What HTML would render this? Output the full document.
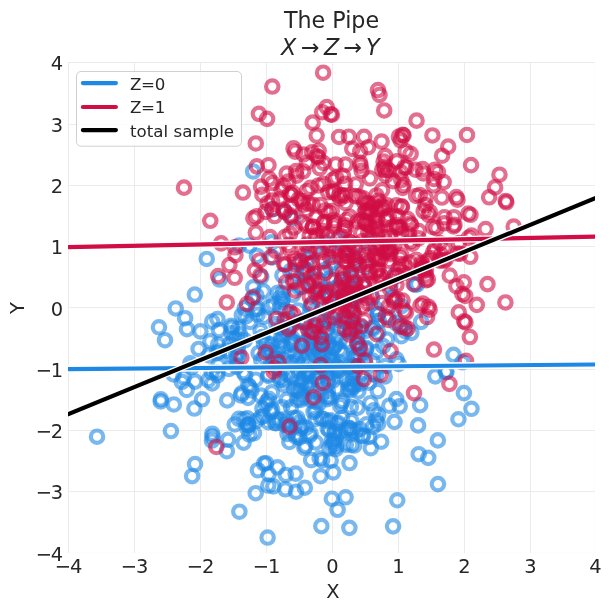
<!DOCTYPE html><html><head><meta charset="utf-8"><style>html,body{margin:0;padding:0;background:#fff}svg{display:block;will-change:transform}text{font-family:"DejaVu Sans","Liberation Sans",sans-serif;fill:#262626}</style></head><body>
<svg width="611" height="611" viewBox="0 0 611 611">
<rect width="611" height="611" fill="#fff"/>
<defs><clipPath id="ax"><rect x="68" y="62.5" width="527" height="490"/></clipPath></defs>
<g stroke="#ebebeb" stroke-width="1" fill="none">
<line x1="68.5" y1="62" x2="68.5" y2="553"/>
<line x1="134.5" y1="62" x2="134.5" y2="553"/>
<line x1="200.5" y1="62" x2="200.5" y2="553"/>
<line x1="266.5" y1="62" x2="266.5" y2="553"/>
<line x1="332.5" y1="62" x2="332.5" y2="553"/>
<line x1="398.5" y1="62" x2="398.5" y2="553"/>
<line x1="464.5" y1="62" x2="464.5" y2="553"/>
<line x1="530.5" y1="62" x2="530.5" y2="553"/>
<line x1="594.5" y1="62" x2="594.5" y2="553" stroke-opacity="0.15"/>
<line x1="68" y1="62.5" x2="595" y2="62.5"/>
<line x1="68" y1="124.5" x2="595" y2="124.5"/>
<line x1="68" y1="185.5" x2="595" y2="185.5"/>
<line x1="68" y1="246.5" x2="595" y2="246.5"/>
<line x1="68" y1="307.5" x2="595" y2="307.5"/>
<line x1="68" y1="369.5" x2="595" y2="369.5"/>
<line x1="68" y1="430.5" x2="595" y2="430.5"/>
<line x1="68" y1="491.5" x2="595" y2="491.5"/>
<line x1="68" y1="552.5" x2="595" y2="552.5" stroke-opacity="0.12"/>
</g>
<g clip-path="url(#ax)" fill="none" stroke-width="4.17">
<g stroke="#1E88E5" stroke-opacity="0.6">
<circle cx="253.27" cy="287.41" r="6.21"/>
<circle cx="311.11" cy="375.51" r="6.21"/>
<circle cx="284.25" cy="346.33" r="6.21"/>
<circle cx="394.48" cy="421.87" r="6.21"/>
<circle cx="198.60" cy="348.95" r="6.21"/>
<circle cx="331.84" cy="498.72" r="6.21"/>
<circle cx="358.40" cy="295.26" r="6.21"/>
<circle cx="229.84" cy="343.78" r="6.21"/>
<circle cx="318.36" cy="298.02" r="6.21"/>
<circle cx="288.50" cy="327.45" r="6.21"/>
<circle cx="300.80" cy="384.85" r="6.21"/>
<circle cx="376.19" cy="352.14" r="6.21"/>
<circle cx="212.05" cy="383.48" r="6.21"/>
<circle cx="319.64" cy="458.31" r="6.21"/>
<circle cx="401.43" cy="306.15" r="6.21"/>
<circle cx="305.50" cy="322.85" r="6.21"/>
<circle cx="323.66" cy="341.64" r="6.21"/>
<circle cx="336.72" cy="423.56" r="6.21"/>
<circle cx="334.08" cy="441.42" r="6.21"/>
<circle cx="195.06" cy="464.01" r="6.21"/>
<circle cx="272.62" cy="257.41" r="6.21"/>
<circle cx="322.69" cy="367.32" r="6.21"/>
<circle cx="236.49" cy="366.74" r="6.21"/>
<circle cx="239.38" cy="511.71" r="6.21"/>
<circle cx="325.05" cy="351.77" r="6.21"/>
<circle cx="295.60" cy="473.62" r="6.21"/>
<circle cx="355.01" cy="327.61" r="6.21"/>
<circle cx="329.36" cy="359.97" r="6.21"/>
<circle cx="327.07" cy="330.27" r="6.21"/>
<circle cx="351.98" cy="371.86" r="6.21"/>
<circle cx="317.97" cy="378.86" r="6.21"/>
<circle cx="173.63" cy="374.39" r="6.21"/>
<circle cx="378.11" cy="314.28" r="6.21"/>
<circle cx="279.98" cy="307.04" r="6.21"/>
<circle cx="378.07" cy="423.72" r="6.21"/>
<circle cx="463.92" cy="393.12" r="6.21"/>
<circle cx="346.65" cy="321.74" r="6.21"/>
<circle cx="373.32" cy="328.42" r="6.21"/>
<circle cx="362.28" cy="436.06" r="6.21"/>
<circle cx="97.04" cy="436.70" r="6.21"/>
<circle cx="418.69" cy="454.19" r="6.21"/>
<circle cx="341.75" cy="296.56" r="6.21"/>
<circle cx="342.53" cy="401.14" r="6.21"/>
<circle cx="349.53" cy="463.06" r="6.21"/>
<circle cx="336.96" cy="388.34" r="6.21"/>
<circle cx="305.36" cy="445.75" r="6.21"/>
<circle cx="264.02" cy="343.94" r="6.21"/>
<circle cx="293.20" cy="342.36" r="6.21"/>
<circle cx="309.00" cy="344.64" r="6.21"/>
<circle cx="366.49" cy="424.40" r="6.21"/>
<circle cx="261.31" cy="276.89" r="6.21"/>
<circle cx="297.99" cy="390.95" r="6.21"/>
<circle cx="350.88" cy="406.84" r="6.21"/>
<circle cx="369.01" cy="437.00" r="6.21"/>
<circle cx="280.26" cy="342.00" r="6.21"/>
<circle cx="300.88" cy="394.39" r="6.21"/>
<circle cx="247.34" cy="418.29" r="6.21"/>
<circle cx="219.05" cy="351.51" r="6.21"/>
<circle cx="302.02" cy="426.31" r="6.21"/>
<circle cx="381.03" cy="247.42" r="6.21"/>
<circle cx="319.70" cy="352.25" r="6.21"/>
<circle cx="211.95" cy="440.51" r="6.21"/>
<circle cx="357.70" cy="354.24" r="6.21"/>
<circle cx="291.02" cy="407.24" r="6.21"/>
<circle cx="286.73" cy="331.46" r="6.21"/>
<circle cx="219.56" cy="279.56" r="6.21"/>
<circle cx="300.14" cy="262.66" r="6.21"/>
<circle cx="341.66" cy="244.06" r="6.21"/>
<circle cx="385.44" cy="366.03" r="6.21"/>
<circle cx="373.82" cy="410.39" r="6.21"/>
<circle cx="268.35" cy="422.21" r="6.21"/>
<circle cx="194.39" cy="408.54" r="6.21"/>
<circle cx="217.43" cy="375.30" r="6.21"/>
<circle cx="411.40" cy="332.86" r="6.21"/>
<circle cx="275.70" cy="358.65" r="6.21"/>
<circle cx="297.17" cy="417.99" r="6.21"/>
<circle cx="377.85" cy="391.09" r="6.21"/>
<circle cx="396.51" cy="359.25" r="6.21"/>
<circle cx="327.97" cy="421.36" r="6.21"/>
<circle cx="421.11" cy="321.89" r="6.21"/>
<circle cx="278.70" cy="327.58" r="6.21"/>
<circle cx="191.86" cy="367.05" r="6.21"/>
<circle cx="309.74" cy="382.70" r="6.21"/>
<circle cx="273.31" cy="486.35" r="6.21"/>
<circle cx="282.72" cy="292.68" r="6.21"/>
<circle cx="310.61" cy="305.69" r="6.21"/>
<circle cx="271.37" cy="344.49" r="6.21"/>
<circle cx="275.09" cy="423.03" r="6.21"/>
<circle cx="394.42" cy="275.40" r="6.21"/>
<circle cx="326.92" cy="375.61" r="6.21"/>
<circle cx="250.11" cy="321.89" r="6.21"/>
<circle cx="340.90" cy="321.03" r="6.21"/>
<circle cx="339.75" cy="362.22" r="6.21"/>
<circle cx="238.89" cy="418.87" r="6.21"/>
<circle cx="190.26" cy="363.40" r="6.21"/>
<circle cx="236.25" cy="353.93" r="6.21"/>
<circle cx="292.73" cy="218.43" r="6.21"/>
<circle cx="304.40" cy="447.93" r="6.21"/>
<circle cx="237.81" cy="347.13" r="6.21"/>
<circle cx="292.66" cy="338.67" r="6.21"/>
<circle cx="321.09" cy="395.39" r="6.21"/>
<circle cx="350.69" cy="390.05" r="6.21"/>
<circle cx="262.46" cy="408.38" r="6.21"/>
<circle cx="310.66" cy="433.68" r="6.21"/>
<circle cx="290.87" cy="344.18" r="6.21"/>
<circle cx="342.04" cy="417.97" r="6.21"/>
<circle cx="294.07" cy="388.63" r="6.21"/>
<circle cx="401.35" cy="325.84" r="6.21"/>
<circle cx="297.15" cy="399.85" r="6.21"/>
<circle cx="336.43" cy="370.25" r="6.21"/>
<circle cx="295.72" cy="434.55" r="6.21"/>
<circle cx="398.56" cy="363.93" r="6.21"/>
<circle cx="287.22" cy="374.05" r="6.21"/>
<circle cx="458.43" cy="419.25" r="6.21"/>
<circle cx="358.78" cy="356.47" r="6.21"/>
<circle cx="346.61" cy="341.28" r="6.21"/>
<circle cx="194.82" cy="294.56" r="6.21"/>
<circle cx="325.96" cy="329.11" r="6.21"/>
<circle cx="339.68" cy="349.68" r="6.21"/>
<circle cx="351.39" cy="421.07" r="6.21"/>
<circle cx="321.36" cy="526.13" r="6.21"/>
<circle cx="282.94" cy="359.88" r="6.21"/>
<circle cx="249.54" cy="386.89" r="6.21"/>
<circle cx="348.13" cy="388.91" r="6.21"/>
<circle cx="313.54" cy="411.86" r="6.21"/>
<circle cx="388.53" cy="248.88" r="6.21"/>
<circle cx="240.03" cy="334.29" r="6.21"/>
<circle cx="357.47" cy="293.89" r="6.21"/>
<circle cx="273.68" cy="358.55" r="6.21"/>
<circle cx="351.13" cy="444.91" r="6.21"/>
<circle cx="218.95" cy="330.00" r="6.21"/>
<circle cx="239.04" cy="245.43" r="6.21"/>
<circle cx="248.14" cy="424.39" r="6.21"/>
<circle cx="298.51" cy="371.36" r="6.21"/>
<circle cx="279.78" cy="346.21" r="6.21"/>
<circle cx="299.71" cy="322.17" r="6.21"/>
<circle cx="333.25" cy="472.35" r="6.21"/>
<circle cx="333.25" cy="362.26" r="6.21"/>
<circle cx="299.40" cy="437.73" r="6.21"/>
<circle cx="307.04" cy="385.24" r="6.21"/>
<circle cx="173.82" cy="404.46" r="6.21"/>
<circle cx="335.85" cy="344.58" r="6.21"/>
<circle cx="248.36" cy="425.05" r="6.21"/>
<circle cx="324.80" cy="242.96" r="6.21"/>
<circle cx="357.13" cy="336.32" r="6.21"/>
<circle cx="286.67" cy="399.83" r="6.21"/>
<circle cx="401.32" cy="336.25" r="6.21"/>
<circle cx="420.15" cy="405.19" r="6.21"/>
<circle cx="328.37" cy="342.60" r="6.21"/>
<circle cx="307.73" cy="372.72" r="6.21"/>
<circle cx="310.67" cy="306.74" r="6.21"/>
<circle cx="366.41" cy="348.03" r="6.21"/>
<circle cx="216.98" cy="353.06" r="6.21"/>
<circle cx="325.48" cy="363.56" r="6.21"/>
<circle cx="370.73" cy="448.21" r="6.21"/>
<circle cx="295.97" cy="272.91" r="6.21"/>
<circle cx="330.03" cy="266.57" r="6.21"/>
<circle cx="392.57" cy="297.44" r="6.21"/>
<circle cx="327.67" cy="396.11" r="6.21"/>
<circle cx="264.35" cy="356.99" r="6.21"/>
<circle cx="397.29" cy="500.25" r="6.21"/>
<circle cx="340.48" cy="431.53" r="6.21"/>
<circle cx="309.18" cy="387.82" r="6.21"/>
<circle cx="303.85" cy="271.90" r="6.21"/>
<circle cx="349.78" cy="327.64" r="6.21"/>
<circle cx="329.26" cy="297.02" r="6.21"/>
<circle cx="320.45" cy="360.27" r="6.21"/>
<circle cx="349.28" cy="304.73" r="6.21"/>
<circle cx="330.22" cy="420.32" r="6.21"/>
<circle cx="340.35" cy="406.07" r="6.21"/>
<circle cx="368.95" cy="382.70" r="6.21"/>
<circle cx="320.22" cy="345.62" r="6.21"/>
<circle cx="261.15" cy="360.10" r="6.21"/>
<circle cx="276.04" cy="423.24" r="6.21"/>
<circle cx="359.72" cy="331.23" r="6.21"/>
<circle cx="301.52" cy="287.16" r="6.21"/>
<circle cx="243.59" cy="442.63" r="6.21"/>
<circle cx="328.97" cy="397.38" r="6.21"/>
<circle cx="354.14" cy="445.56" r="6.21"/>
<circle cx="255.67" cy="379.70" r="6.21"/>
<circle cx="248.20" cy="385.21" r="6.21"/>
<circle cx="260.58" cy="331.03" r="6.21"/>
<circle cx="338.42" cy="367.64" r="6.21"/>
<circle cx="237.10" cy="358.69" r="6.21"/>
<circle cx="272.64" cy="209.26" r="6.21"/>
<circle cx="218.15" cy="344.43" r="6.21"/>
<circle cx="245.26" cy="375.08" r="6.21"/>
<circle cx="286.80" cy="421.90" r="6.21"/>
<circle cx="435.27" cy="376.37" r="6.21"/>
<circle cx="309.75" cy="347.89" r="6.21"/>
<circle cx="298.99" cy="390.94" r="6.21"/>
<circle cx="399.70" cy="406.27" r="6.21"/>
<circle cx="217.13" cy="372.45" r="6.21"/>
<circle cx="281.93" cy="301.83" r="6.21"/>
<circle cx="357.64" cy="343.08" r="6.21"/>
<circle cx="353.60" cy="355.36" r="6.21"/>
<circle cx="257.91" cy="470.22" r="6.21"/>
<circle cx="334.88" cy="431.51" r="6.21"/>
<circle cx="264.04" cy="316.65" r="6.21"/>
<circle cx="316.01" cy="289.43" r="6.21"/>
<circle cx="316.78" cy="347.34" r="6.21"/>
<circle cx="270.87" cy="363.40" r="6.21"/>
<circle cx="248.07" cy="397.84" r="6.21"/>
<circle cx="318.83" cy="403.59" r="6.21"/>
<circle cx="301.18" cy="365.16" r="6.21"/>
<circle cx="360.60" cy="383.67" r="6.21"/>
<circle cx="268.38" cy="374.49" r="6.21"/>
<circle cx="315.86" cy="327.00" r="6.21"/>
<circle cx="212.15" cy="321.65" r="6.21"/>
<circle cx="271.77" cy="242.38" r="6.21"/>
<circle cx="282.41" cy="275.36" r="6.21"/>
<circle cx="347.33" cy="316.95" r="6.21"/>
<circle cx="311.13" cy="460.15" r="6.21"/>
<circle cx="327.78" cy="391.24" r="6.21"/>
<circle cx="300.75" cy="428.41" r="6.21"/>
<circle cx="264.04" cy="463.66" r="6.21"/>
<circle cx="311.51" cy="349.55" r="6.21"/>
<circle cx="249.41" cy="434.54" r="6.21"/>
<circle cx="228.96" cy="368.84" r="6.21"/>
<circle cx="320.49" cy="476.25" r="6.21"/>
<circle cx="296.09" cy="491.71" r="6.21"/>
<circle cx="317.40" cy="372.29" r="6.21"/>
<circle cx="353.53" cy="255.08" r="6.21"/>
<circle cx="280.22" cy="379.86" r="6.21"/>
<circle cx="349.23" cy="331.24" r="6.21"/>
<circle cx="251.39" cy="390.49" r="6.21"/>
<circle cx="284.03" cy="384.78" r="6.21"/>
<circle cx="217.46" cy="319.01" r="6.21"/>
<circle cx="338.23" cy="423.05" r="6.21"/>
<circle cx="307.79" cy="371.06" r="6.21"/>
<circle cx="294.01" cy="345.28" r="6.21"/>
<circle cx="252.15" cy="298.97" r="6.21"/>
<circle cx="243.48" cy="372.15" r="6.21"/>
<circle cx="233.62" cy="338.69" r="6.21"/>
<circle cx="255.91" cy="309.16" r="6.21"/>
<circle cx="358.92" cy="349.30" r="6.21"/>
<circle cx="348.93" cy="428.29" r="6.21"/>
<circle cx="285.73" cy="474.95" r="6.21"/>
<circle cx="312.84" cy="251.84" r="6.21"/>
<circle cx="313.37" cy="354.90" r="6.21"/>
<circle cx="238.83" cy="353.75" r="6.21"/>
<circle cx="361.33" cy="327.16" r="6.21"/>
<circle cx="365.64" cy="267.03" r="6.21"/>
<circle cx="255.70" cy="493.17" r="6.21"/>
<circle cx="240.82" cy="395.41" r="6.21"/>
<circle cx="299.05" cy="422.64" r="6.21"/>
<circle cx="304.49" cy="360.86" r="6.21"/>
<circle cx="218.48" cy="365.36" r="6.21"/>
<circle cx="329.75" cy="278.59" r="6.21"/>
<circle cx="281.26" cy="336.57" r="6.21"/>
<circle cx="284.75" cy="380.36" r="6.21"/>
<circle cx="185.11" cy="318.18" r="6.21"/>
<circle cx="231.46" cy="333.19" r="6.21"/>
<circle cx="330.76" cy="317.75" r="6.21"/>
<circle cx="315.45" cy="401.72" r="6.21"/>
<circle cx="320.81" cy="352.74" r="6.21"/>
<circle cx="339.54" cy="340.74" r="6.21"/>
<circle cx="195.06" cy="381.59" r="6.21"/>
<circle cx="285.31" cy="489.31" r="6.21"/>
<circle cx="308.42" cy="372.29" r="6.21"/>
<circle cx="300.01" cy="345.44" r="6.21"/>
<circle cx="355.54" cy="384.18" r="6.21"/>
<circle cx="332.38" cy="373.00" r="6.21"/>
<circle cx="346.49" cy="300.15" r="6.21"/>
<circle cx="256.98" cy="255.95" r="6.21"/>
<circle cx="269.04" cy="350.08" r="6.21"/>
<circle cx="323.33" cy="418.92" r="6.21"/>
<circle cx="290.59" cy="425.24" r="6.21"/>
<circle cx="244.82" cy="340.33" r="6.21"/>
<circle cx="342.56" cy="279.15" r="6.21"/>
<circle cx="253.10" cy="171.49" r="6.21"/>
<circle cx="299.50" cy="331.34" r="6.21"/>
<circle cx="386.85" cy="339.55" r="6.21"/>
<circle cx="365.56" cy="330.89" r="6.21"/>
<circle cx="328.40" cy="383.13" r="6.21"/>
<circle cx="337.62" cy="509.79" r="6.21"/>
<circle cx="352.95" cy="311.49" r="6.21"/>
<circle cx="331.69" cy="441.06" r="6.21"/>
<circle cx="236.94" cy="338.18" r="6.21"/>
<circle cx="241.79" cy="393.21" r="6.21"/>
<circle cx="336.45" cy="337.21" r="6.21"/>
<circle cx="372.08" cy="374.07" r="6.21"/>
<circle cx="230.89" cy="354.81" r="6.21"/>
<circle cx="303.75" cy="377.52" r="6.21"/>
<circle cx="405.38" cy="331.10" r="6.21"/>
<circle cx="383.01" cy="346.10" r="6.21"/>
<circle cx="293.08" cy="294.82" r="6.21"/>
<circle cx="347.52" cy="279.53" r="6.21"/>
<circle cx="265.98" cy="463.24" r="6.21"/>
<circle cx="344.29" cy="321.09" r="6.21"/>
<circle cx="268.96" cy="307.14" r="6.21"/>
<circle cx="379.04" cy="321.34" r="6.21"/>
<circle cx="320.73" cy="289.11" r="6.21"/>
<circle cx="330.28" cy="323.33" r="6.21"/>
<circle cx="262.17" cy="337.03" r="6.21"/>
<circle cx="350.76" cy="331.97" r="6.21"/>
<circle cx="311.85" cy="338.52" r="6.21"/>
<circle cx="358.99" cy="344.63" r="6.21"/>
<circle cx="366.06" cy="349.20" r="6.21"/>
<circle cx="202.02" cy="399.32" r="6.21"/>
<circle cx="308.36" cy="364.00" r="6.21"/>
<circle cx="258.15" cy="308.95" r="6.21"/>
<circle cx="279.79" cy="420.28" r="6.21"/>
<circle cx="245.80" cy="316.39" r="6.21"/>
<circle cx="354.55" cy="365.45" r="6.21"/>
<circle cx="389.27" cy="405.72" r="6.21"/>
<circle cx="227.97" cy="439.82" r="6.21"/>
<circle cx="321.17" cy="418.49" r="6.21"/>
<circle cx="289.34" cy="442.00" r="6.21"/>
<circle cx="357.63" cy="407.61" r="6.21"/>
<circle cx="359.74" cy="347.87" r="6.21"/>
<circle cx="305.77" cy="373.42" r="6.21"/>
<circle cx="289.49" cy="429.89" r="6.21"/>
<circle cx="276.38" cy="419.54" r="6.21"/>
<circle cx="388.66" cy="317.23" r="6.21"/>
<circle cx="318.21" cy="352.21" r="6.21"/>
<circle cx="324.65" cy="269.97" r="6.21"/>
<circle cx="315.76" cy="333.95" r="6.21"/>
<circle cx="376.28" cy="420.22" r="6.21"/>
<circle cx="186.79" cy="389.98" r="6.21"/>
<circle cx="160.75" cy="401.48" r="6.21"/>
<circle cx="363.02" cy="435.45" r="6.21"/>
<circle cx="226.68" cy="350.88" r="6.21"/>
<circle cx="258.60" cy="353.20" r="6.21"/>
<circle cx="265.95" cy="404.32" r="6.21"/>
<circle cx="181.84" cy="381.80" r="6.21"/>
<circle cx="256.02" cy="421.25" r="6.21"/>
<circle cx="227.25" cy="400.39" r="6.21"/>
<circle cx="300.59" cy="380.41" r="6.21"/>
<circle cx="319.26" cy="280.16" r="6.21"/>
<circle cx="345.60" cy="497.28" r="6.21"/>
<circle cx="437.83" cy="440.40" r="6.21"/>
<circle cx="352.09" cy="385.95" r="6.21"/>
<circle cx="349.36" cy="366.90" r="6.21"/>
<circle cx="453.58" cy="354.81" r="6.21"/>
<circle cx="354.97" cy="260.10" r="6.21"/>
<circle cx="353.86" cy="300.34" r="6.21"/>
<circle cx="160.84" cy="399.29" r="6.21"/>
<circle cx="284.63" cy="424.68" r="6.21"/>
<circle cx="384.67" cy="376.53" r="6.21"/>
<circle cx="260.91" cy="417.14" r="6.21"/>
<circle cx="313.37" cy="391.26" r="6.21"/>
<circle cx="263.43" cy="291.34" r="6.21"/>
<circle cx="206.74" cy="258.93" r="6.21"/>
<circle cx="417.24" cy="284.28" r="6.21"/>
<circle cx="368.13" cy="243.19" r="6.21"/>
<circle cx="348.97" cy="384.03" r="6.21"/>
<circle cx="346.13" cy="430.18" r="6.21"/>
<circle cx="393.10" cy="526.33" r="6.21"/>
<circle cx="446.48" cy="371.57" r="6.21"/>
<circle cx="329.14" cy="430.38" r="6.21"/>
<circle cx="209.05" cy="355.34" r="6.21"/>
<circle cx="322.73" cy="367.93" r="6.21"/>
<circle cx="338.53" cy="286.18" r="6.21"/>
<circle cx="339.30" cy="328.19" r="6.21"/>
<circle cx="378.08" cy="414.89" r="6.21"/>
<circle cx="428.26" cy="457.83" r="6.21"/>
<circle cx="354.99" cy="431.40" r="6.21"/>
<circle cx="355.62" cy="356.56" r="6.21"/>
<circle cx="212.30" cy="433.74" r="6.21"/>
<circle cx="318.67" cy="318.66" r="6.21"/>
<circle cx="351.17" cy="275.49" r="6.21"/>
<circle cx="210.38" cy="341.28" r="6.21"/>
<circle cx="298.04" cy="310.43" r="6.21"/>
<circle cx="332.89" cy="380.52" r="6.21"/>
<circle cx="333.20" cy="348.07" r="6.21"/>
<circle cx="249.37" cy="245.62" r="6.21"/>
<circle cx="372.21" cy="360.43" r="6.21"/>
<circle cx="247.35" cy="428.49" r="6.21"/>
<circle cx="353.08" cy="292.21" r="6.21"/>
<circle cx="375.86" cy="308.87" r="6.21"/>
<circle cx="341.52" cy="402.79" r="6.21"/>
<circle cx="353.24" cy="379.00" r="6.21"/>
<circle cx="308.46" cy="257.85" r="6.21"/>
<circle cx="285.36" cy="310.26" r="6.21"/>
<circle cx="338.42" cy="239.09" r="6.21"/>
<circle cx="313.40" cy="342.31" r="6.21"/>
<circle cx="354.99" cy="370.36" r="6.21"/>
<circle cx="304.81" cy="487.69" r="6.21"/>
<circle cx="212.48" cy="436.54" r="6.21"/>
<circle cx="272.22" cy="409.65" r="6.21"/>
<circle cx="267.11" cy="401.22" r="6.21"/>
<circle cx="231.95" cy="327.54" r="6.21"/>
<circle cx="326.74" cy="321.55" r="6.21"/>
<circle cx="283.80" cy="333.45" r="6.21"/>
<circle cx="315.51" cy="418.96" r="6.21"/>
<circle cx="307.38" cy="270.78" r="6.21"/>
<circle cx="158.98" cy="327.29" r="6.21"/>
<circle cx="321.33" cy="337.85" r="6.21"/>
<circle cx="336.21" cy="445.83" r="6.21"/>
<circle cx="352.28" cy="296.41" r="6.21"/>
<circle cx="279.78" cy="369.17" r="6.21"/>
<circle cx="327.36" cy="346.24" r="6.21"/>
<circle cx="238.29" cy="328.80" r="6.21"/>
<circle cx="298.65" cy="287.48" r="6.21"/>
<circle cx="315.54" cy="410.58" r="6.21"/>
<circle cx="248.11" cy="425.13" r="6.21"/>
<circle cx="314.43" cy="311.24" r="6.21"/>
<circle cx="280.22" cy="297.57" r="6.21"/>
<circle cx="243.50" cy="419.32" r="6.21"/>
<circle cx="333.65" cy="347.68" r="6.21"/>
<circle cx="332.85" cy="288.89" r="6.21"/>
<circle cx="164.98" cy="340.23" r="6.21"/>
<circle cx="359.61" cy="429.16" r="6.21"/>
<circle cx="268.77" cy="474.09" r="6.21"/>
<circle cx="260.75" cy="395.65" r="6.21"/>
<circle cx="351.26" cy="277.24" r="6.21"/>
<circle cx="253.96" cy="433.18" r="6.21"/>
<circle cx="278.24" cy="352.01" r="6.21"/>
<circle cx="183.46" cy="377.24" r="6.21"/>
<circle cx="257.55" cy="314.73" r="6.21"/>
<circle cx="311.43" cy="400.29" r="6.21"/>
<circle cx="268.36" cy="375.97" r="6.21"/>
<circle cx="375.87" cy="375.42" r="6.21"/>
<circle cx="335.87" cy="438.74" r="6.21"/>
<circle cx="317.23" cy="376.64" r="6.21"/>
<circle cx="276.02" cy="358.86" r="6.21"/>
<circle cx="322.12" cy="460.32" r="6.21"/>
<circle cx="353.51" cy="321.45" r="6.21"/>
<circle cx="327.67" cy="428.40" r="6.21"/>
<circle cx="282.11" cy="407.22" r="6.21"/>
<circle cx="309.30" cy="333.15" r="6.21"/>
<circle cx="295.42" cy="353.93" r="6.21"/>
<circle cx="291.92" cy="377.38" r="6.21"/>
<circle cx="471.47" cy="408.76" r="6.21"/>
<circle cx="333.04" cy="262.43" r="6.21"/>
<circle cx="268.86" cy="398.78" r="6.21"/>
<circle cx="301.14" cy="399.69" r="6.21"/>
<circle cx="231.36" cy="325.72" r="6.21"/>
<circle cx="276.34" cy="324.14" r="6.21"/>
<circle cx="332.40" cy="444.94" r="6.21"/>
<circle cx="295.89" cy="436.60" r="6.21"/>
<circle cx="267.61" cy="537.53" r="6.21"/>
<circle cx="396.32" cy="399.05" r="6.21"/>
<circle cx="372.30" cy="327.71" r="6.21"/>
<circle cx="279.84" cy="377.21" r="6.21"/>
<circle cx="333.07" cy="365.18" r="6.21"/>
<circle cx="328.05" cy="378.97" r="6.21"/>
<circle cx="462.31" cy="362.27" r="6.21"/>
<circle cx="336.83" cy="366.03" r="6.21"/>
<circle cx="358.34" cy="391.35" r="6.21"/>
<circle cx="296.98" cy="361.11" r="6.21"/>
<circle cx="329.36" cy="447.89" r="6.21"/>
<circle cx="290.28" cy="271.13" r="6.21"/>
<circle cx="349.38" cy="527.86" r="6.21"/>
<circle cx="370.34" cy="403.20" r="6.21"/>
<circle cx="334.58" cy="433.22" r="6.21"/>
<circle cx="175.71" cy="308.42" r="6.21"/>
<circle cx="170.92" cy="431.01" r="6.21"/>
<circle cx="314.40" cy="347.15" r="6.21"/>
<circle cx="277.53" cy="467.30" r="6.21"/>
<circle cx="328.92" cy="245.54" r="6.21"/>
<circle cx="305.93" cy="427.78" r="6.21"/>
<circle cx="346.88" cy="379.41" r="6.21"/>
<circle cx="353.34" cy="387.08" r="6.21"/>
<circle cx="271.92" cy="392.39" r="6.21"/>
<circle cx="328.95" cy="346.87" r="6.21"/>
<circle cx="200.37" cy="331.39" r="6.21"/>
<circle cx="292.90" cy="362.53" r="6.21"/>
<circle cx="266.84" cy="343.14" r="6.21"/>
<circle cx="263.47" cy="416.18" r="6.21"/>
<circle cx="288.32" cy="318.97" r="6.21"/>
<circle cx="282.87" cy="299.10" r="6.21"/>
<circle cx="378.35" cy="332.72" r="6.21"/>
<circle cx="284.83" cy="211.71" r="6.21"/>
<circle cx="336.01" cy="448.86" r="6.21"/>
<circle cx="303.95" cy="320.86" r="6.21"/>
<circle cx="418.10" cy="425.38" r="6.21"/>
<circle cx="211.66" cy="372.33" r="6.21"/>
<circle cx="345.88" cy="444.66" r="6.21"/>
<circle cx="287.53" cy="433.87" r="6.21"/>
<circle cx="362.62" cy="284.44" r="6.21"/>
<circle cx="365.43" cy="363.88" r="6.21"/>
<circle cx="256.50" cy="295.68" r="6.21"/>
<circle cx="324.13" cy="363.94" r="6.21"/>
<circle cx="415.06" cy="284.81" r="6.21"/>
<circle cx="270.51" cy="411.67" r="6.21"/>
<circle cx="192.12" cy="476.17" r="6.21"/>
<circle cx="187.03" cy="329.20" r="6.21"/>
<circle cx="299.46" cy="331.80" r="6.21"/>
<circle cx="297.88" cy="358.96" r="6.21"/>
<circle cx="372.98" cy="426.84" r="6.21"/>
<circle cx="327.37" cy="399.13" r="6.21"/>
<circle cx="338.94" cy="370.70" r="6.21"/>
<circle cx="281.80" cy="327.08" r="6.21"/>
<circle cx="226.83" cy="451.23" r="6.21"/>
<circle cx="350.95" cy="429.79" r="6.21"/>
<circle cx="315.68" cy="442.45" r="6.21"/>
<circle cx="309.38" cy="435.54" r="6.21"/>
<circle cx="273.76" cy="304.29" r="6.21"/>
<circle cx="437.97" cy="484.15" r="6.21"/>
<circle cx="241.81" cy="315.23" r="6.21"/>
<circle cx="303.96" cy="397.20" r="6.21"/>
<circle cx="234.73" cy="424.47" r="6.21"/>
<circle cx="330.66" cy="460.54" r="6.21"/>
<circle cx="306.16" cy="272.03" r="6.21"/>
<circle cx="390.28" cy="285.28" r="6.21"/>
<circle cx="445.73" cy="372.13" r="6.21"/>
<circle cx="289.67" cy="362.43" r="6.21"/>
<circle cx="377.85" cy="313.68" r="6.21"/>
<circle cx="244.78" cy="308.36" r="6.21"/>
<circle cx="277.79" cy="292.69" r="6.21"/>
<circle cx="342.41" cy="353.65" r="6.21"/>
<circle cx="293.90" cy="417.87" r="6.21"/>
<circle cx="372.31" cy="298.19" r="6.21"/>
<circle cx="395.70" cy="323.00" r="6.21"/>
<circle cx="268.26" cy="485.54" r="6.21"/>
<circle cx="381.19" cy="441.69" r="6.21"/>
<circle cx="208.42" cy="380.10" r="6.21"/>
<circle cx="349.62" cy="428.05" r="6.21"/>
<circle cx="353.27" cy="366.10" r="6.21"/>
<circle cx="278.89" cy="362.26" r="6.21"/>
</g>
<g stroke="#D00E45" stroke-opacity="0.6">
<circle cx="362.74" cy="241.10" r="6.21"/>
<circle cx="426.04" cy="275.36" r="6.21"/>
<circle cx="390.12" cy="289.27" r="6.21"/>
<circle cx="388.30" cy="319.99" r="6.21"/>
<circle cx="289.78" cy="312.21" r="6.21"/>
<circle cx="332.73" cy="301.86" r="6.21"/>
<circle cx="184.02" cy="187.67" r="6.21"/>
<circle cx="407.43" cy="328.63" r="6.21"/>
<circle cx="397.02" cy="298.96" r="6.21"/>
<circle cx="309.70" cy="296.55" r="6.21"/>
<circle cx="350.74" cy="271.73" r="6.21"/>
<circle cx="418.70" cy="231.02" r="6.21"/>
<circle cx="344.44" cy="305.27" r="6.21"/>
<circle cx="368.14" cy="203.49" r="6.21"/>
<circle cx="418.50" cy="238.38" r="6.21"/>
<circle cx="353.92" cy="313.00" r="6.21"/>
<circle cx="400.68" cy="172.11" r="6.21"/>
<circle cx="400.58" cy="140.26" r="6.21"/>
<circle cx="388.58" cy="306.53" r="6.21"/>
<circle cx="339.91" cy="256.77" r="6.21"/>
<circle cx="310.44" cy="187.90" r="6.21"/>
<circle cx="387.12" cy="250.96" r="6.21"/>
<circle cx="489.14" cy="197.32" r="6.21"/>
<circle cx="294.40" cy="227.47" r="6.21"/>
<circle cx="348.02" cy="256.14" r="6.21"/>
<circle cx="332.90" cy="179.92" r="6.21"/>
<circle cx="381.44" cy="249.05" r="6.21"/>
<circle cx="345.88" cy="227.89" r="6.21"/>
<circle cx="387.08" cy="205.41" r="6.21"/>
<circle cx="322.18" cy="112.23" r="6.21"/>
<circle cx="368.95" cy="225.07" r="6.21"/>
<circle cx="433.48" cy="185.33" r="6.21"/>
<circle cx="267.55" cy="203.27" r="6.21"/>
<circle cx="399.78" cy="257.79" r="6.21"/>
<circle cx="465.42" cy="322.46" r="6.21"/>
<circle cx="256.46" cy="216.40" r="6.21"/>
<circle cx="345.65" cy="203.01" r="6.21"/>
<circle cx="362.13" cy="306.74" r="6.21"/>
<circle cx="366.17" cy="223.56" r="6.21"/>
<circle cx="270.71" cy="257.16" r="6.21"/>
<circle cx="255.80" cy="143.46" r="6.21"/>
<circle cx="334.30" cy="222.81" r="6.21"/>
<circle cx="303.38" cy="204.60" r="6.21"/>
<circle cx="382.23" cy="169.54" r="6.21"/>
<circle cx="396.56" cy="205.19" r="6.21"/>
<circle cx="423.36" cy="173.44" r="6.21"/>
<circle cx="385.47" cy="170.12" r="6.21"/>
<circle cx="326.30" cy="292.53" r="6.21"/>
<circle cx="364.86" cy="360.63" r="6.21"/>
<circle cx="350.49" cy="242.65" r="6.21"/>
<circle cx="363.59" cy="285.15" r="6.21"/>
<circle cx="421.49" cy="263.08" r="6.21"/>
<circle cx="412.34" cy="243.73" r="6.21"/>
<circle cx="389.35" cy="248.95" r="6.21"/>
<circle cx="318.27" cy="157.28" r="6.21"/>
<circle cx="376.52" cy="228.64" r="6.21"/>
<circle cx="334.80" cy="317.33" r="6.21"/>
<circle cx="315.34" cy="292.54" r="6.21"/>
<circle cx="360.43" cy="348.54" r="6.21"/>
<circle cx="357.63" cy="221.43" r="6.21"/>
<circle cx="312.01" cy="303.58" r="6.21"/>
<circle cx="377.41" cy="269.75" r="6.21"/>
<circle cx="376.39" cy="195.48" r="6.21"/>
<circle cx="347.47" cy="293.19" r="6.21"/>
<circle cx="456.39" cy="286.24" r="6.21"/>
<circle cx="458.81" cy="312.39" r="6.21"/>
<circle cx="384.21" cy="110.45" r="6.21"/>
<circle cx="306.69" cy="191.21" r="6.21"/>
<circle cx="377.96" cy="90.01" r="6.21"/>
<circle cx="409.19" cy="234.31" r="6.21"/>
<circle cx="323.68" cy="261.43" r="6.21"/>
<circle cx="487.49" cy="284.08" r="6.21"/>
<circle cx="364.37" cy="202.69" r="6.21"/>
<circle cx="384.16" cy="237.05" r="6.21"/>
<circle cx="300.49" cy="261.00" r="6.21"/>
<circle cx="353.71" cy="257.61" r="6.21"/>
<circle cx="367.05" cy="255.37" r="6.21"/>
<circle cx="346.58" cy="219.96" r="6.21"/>
<circle cx="373.10" cy="203.87" r="6.21"/>
<circle cx="343.98" cy="231.38" r="6.21"/>
<circle cx="396.77" cy="227.63" r="6.21"/>
<circle cx="295.44" cy="264.43" r="6.21"/>
<circle cx="269.92" cy="237.15" r="6.21"/>
<circle cx="317.01" cy="156.20" r="6.21"/>
<circle cx="471.55" cy="235.63" r="6.21"/>
<circle cx="425.40" cy="205.11" r="6.21"/>
<circle cx="242.96" cy="192.57" r="6.21"/>
<circle cx="355.64" cy="262.57" r="6.21"/>
<circle cx="330.73" cy="114.35" r="6.21"/>
<circle cx="415.49" cy="169.73" r="6.21"/>
<circle cx="252.97" cy="297.25" r="6.21"/>
<circle cx="345.49" cy="252.24" r="6.21"/>
<circle cx="234.70" cy="277.81" r="6.21"/>
<circle cx="272.66" cy="183.04" r="6.21"/>
<circle cx="404.42" cy="264.91" r="6.21"/>
<circle cx="303.28" cy="322.19" r="6.21"/>
<circle cx="390.25" cy="281.30" r="6.21"/>
<circle cx="279.58" cy="199.36" r="6.21"/>
<circle cx="457.52" cy="199.65" r="6.21"/>
<circle cx="383.59" cy="161.65" r="6.21"/>
<circle cx="365.49" cy="222.70" r="6.21"/>
<circle cx="400.44" cy="227.87" r="6.21"/>
<circle cx="470.50" cy="214.81" r="6.21"/>
<circle cx="427.84" cy="279.47" r="6.21"/>
<circle cx="381.03" cy="275.96" r="6.21"/>
<circle cx="360.69" cy="165.66" r="6.21"/>
<circle cx="377.07" cy="233.50" r="6.21"/>
<circle cx="313.48" cy="332.11" r="6.21"/>
<circle cx="390.36" cy="254.12" r="6.21"/>
<circle cx="306.16" cy="209.90" r="6.21"/>
<circle cx="405.87" cy="312.52" r="6.21"/>
<circle cx="347.97" cy="249.04" r="6.21"/>
<circle cx="369.96" cy="178.35" r="6.21"/>
<circle cx="513.70" cy="226.50" r="6.21"/>
<circle cx="358.00" cy="366.05" r="6.21"/>
<circle cx="375.72" cy="223.51" r="6.21"/>
<circle cx="364.66" cy="212.16" r="6.21"/>
<circle cx="262.45" cy="194.74" r="6.21"/>
<circle cx="407.69" cy="219.16" r="6.21"/>
<circle cx="409.53" cy="262.49" r="6.21"/>
<circle cx="454.43" cy="224.90" r="6.21"/>
<circle cx="340.05" cy="198.39" r="6.21"/>
<circle cx="331.95" cy="114.74" r="6.21"/>
<circle cx="276.46" cy="318.96" r="6.21"/>
<circle cx="368.18" cy="147.20" r="6.21"/>
<circle cx="432.41" cy="135.44" r="6.21"/>
<circle cx="345.23" cy="183.77" r="6.21"/>
<circle cx="352.31" cy="148.88" r="6.21"/>
<circle cx="388.76" cy="170.42" r="6.21"/>
<circle cx="351.39" cy="306.06" r="6.21"/>
<circle cx="402.59" cy="300.62" r="6.21"/>
<circle cx="355.62" cy="281.61" r="6.21"/>
<circle cx="456.40" cy="197.07" r="6.21"/>
<circle cx="357.23" cy="343.37" r="6.21"/>
<circle cx="288.22" cy="181.65" r="6.21"/>
<circle cx="310.71" cy="277.00" r="6.21"/>
<circle cx="284.11" cy="264.30" r="6.21"/>
<circle cx="343.38" cy="276.96" r="6.21"/>
<circle cx="396.46" cy="284.96" r="6.21"/>
<circle cx="368.17" cy="210.67" r="6.21"/>
<circle cx="355.00" cy="247.94" r="6.21"/>
<circle cx="313.55" cy="397.40" r="6.21"/>
<circle cx="433.18" cy="227.10" r="6.21"/>
<circle cx="312.97" cy="226.91" r="6.21"/>
<circle cx="449.44" cy="383.89" r="6.21"/>
<circle cx="308.36" cy="264.23" r="6.21"/>
<circle cx="385.88" cy="219.99" r="6.21"/>
<circle cx="333.80" cy="226.27" r="6.21"/>
<circle cx="229.41" cy="265.07" r="6.21"/>
<circle cx="378.53" cy="200.55" r="6.21"/>
<circle cx="317.37" cy="235.24" r="6.21"/>
<circle cx="505.40" cy="302.44" r="6.21"/>
<circle cx="425.94" cy="269.80" r="6.21"/>
<circle cx="342.91" cy="175.90" r="6.21"/>
<circle cx="216.35" cy="446.98" r="6.21"/>
<circle cx="350.70" cy="329.79" r="6.21"/>
<circle cx="343.00" cy="294.81" r="6.21"/>
<circle cx="396.42" cy="225.09" r="6.21"/>
<circle cx="312.76" cy="204.68" r="6.21"/>
<circle cx="283.56" cy="209.61" r="6.21"/>
<circle cx="394.62" cy="300.47" r="6.21"/>
<circle cx="378.71" cy="276.53" r="6.21"/>
<circle cx="278.56" cy="362.19" r="6.21"/>
<circle cx="457.39" cy="253.52" r="6.21"/>
<circle cx="341.97" cy="195.21" r="6.21"/>
<circle cx="381.72" cy="303.14" r="6.21"/>
<circle cx="343.66" cy="290.34" r="6.21"/>
<circle cx="336.17" cy="177.57" r="6.21"/>
<circle cx="422.77" cy="267.28" r="6.21"/>
<circle cx="360.31" cy="256.02" r="6.21"/>
<circle cx="349.12" cy="285.85" r="6.21"/>
<circle cx="370.23" cy="272.36" r="6.21"/>
<circle cx="328.51" cy="248.40" r="6.21"/>
<circle cx="359.03" cy="291.99" r="6.21"/>
<circle cx="267.12" cy="118.83" r="6.21"/>
<circle cx="303.53" cy="154.44" r="6.21"/>
<circle cx="430.38" cy="258.12" r="6.21"/>
<circle cx="307.98" cy="329.34" r="6.21"/>
<circle cx="385.77" cy="175.48" r="6.21"/>
<circle cx="469.84" cy="337.02" r="6.21"/>
<circle cx="416.18" cy="195.99" r="6.21"/>
<circle cx="349.50" cy="241.78" r="6.21"/>
<circle cx="397.76" cy="227.05" r="6.21"/>
<circle cx="402.73" cy="134.84" r="6.21"/>
<circle cx="318.66" cy="150.80" r="6.21"/>
<circle cx="495.10" cy="187.40" r="6.21"/>
<circle cx="422.92" cy="303.56" r="6.21"/>
<circle cx="371.73" cy="227.75" r="6.21"/>
<circle cx="291.45" cy="325.93" r="6.21"/>
<circle cx="345.58" cy="164.60" r="6.21"/>
<circle cx="449.73" cy="275.51" r="6.21"/>
<circle cx="368.30" cy="232.16" r="6.21"/>
<circle cx="324.81" cy="292.88" r="6.21"/>
<circle cx="453.55" cy="226.38" r="6.21"/>
<circle cx="344.44" cy="316.04" r="6.21"/>
<circle cx="273.68" cy="371.57" r="6.21"/>
<circle cx="269.14" cy="178.89" r="6.21"/>
<circle cx="366.53" cy="298.20" r="6.21"/>
<circle cx="335.78" cy="164.47" r="6.21"/>
<circle cx="458.93" cy="243.17" r="6.21"/>
<circle cx="355.13" cy="196.10" r="6.21"/>
<circle cx="396.85" cy="276.21" r="6.21"/>
<circle cx="423.14" cy="268.11" r="6.21"/>
<circle cx="403.33" cy="273.02" r="6.21"/>
<circle cx="413.72" cy="283.98" r="6.21"/>
<circle cx="364.82" cy="220.85" r="6.21"/>
<circle cx="290.12" cy="233.87" r="6.21"/>
<circle cx="285.33" cy="264.48" r="6.21"/>
<circle cx="370.26" cy="213.28" r="6.21"/>
<circle cx="354.93" cy="283.86" r="6.21"/>
<circle cx="324.58" cy="222.39" r="6.21"/>
<circle cx="349.79" cy="334.57" r="6.21"/>
<circle cx="314.59" cy="273.53" r="6.21"/>
<circle cx="361.23" cy="233.28" r="6.21"/>
<circle cx="354.72" cy="328.44" r="6.21"/>
<circle cx="424.30" cy="270.97" r="6.21"/>
<circle cx="434.25" cy="179.02" r="6.21"/>
<circle cx="292.63" cy="192.82" r="6.21"/>
<circle cx="441.84" cy="197.53" r="6.21"/>
<circle cx="286.65" cy="173.60" r="6.21"/>
<circle cx="371.21" cy="207.75" r="6.21"/>
<circle cx="306.46" cy="244.51" r="6.21"/>
<circle cx="350.10" cy="293.00" r="6.21"/>
<circle cx="349.59" cy="216.69" r="6.21"/>
<circle cx="292.97" cy="280.73" r="6.21"/>
<circle cx="333.41" cy="191.27" r="6.21"/>
<circle cx="404.50" cy="327.39" r="6.21"/>
<circle cx="468.35" cy="213.56" r="6.21"/>
<circle cx="359.30" cy="196.83" r="6.21"/>
<circle cx="378.95" cy="243.10" r="6.21"/>
<circle cx="315.71" cy="236.46" r="6.21"/>
<circle cx="298.69" cy="199.34" r="6.21"/>
<circle cx="422.87" cy="264.59" r="6.21"/>
<circle cx="364.63" cy="320.49" r="6.21"/>
<circle cx="460.18" cy="253.74" r="6.21"/>
<circle cx="334.12" cy="220.23" r="6.21"/>
<circle cx="361.06" cy="326.06" r="6.21"/>
<circle cx="338.28" cy="314.30" r="6.21"/>
<circle cx="379.49" cy="94.95" r="6.21"/>
<circle cx="392.08" cy="227.20" r="6.21"/>
<circle cx="294.57" cy="282.00" r="6.21"/>
<circle cx="265.67" cy="352.41" r="6.21"/>
<circle cx="366.18" cy="210.94" r="6.21"/>
<circle cx="385.80" cy="241.73" r="6.21"/>
<circle cx="321.91" cy="344.41" r="6.21"/>
<circle cx="328.71" cy="212.71" r="6.21"/>
<circle cx="445.64" cy="259.70" r="6.21"/>
<circle cx="346.77" cy="261.52" r="6.21"/>
<circle cx="403.66" cy="185.10" r="6.21"/>
<circle cx="329.68" cy="306.58" r="6.21"/>
<circle cx="318.52" cy="248.36" r="6.21"/>
<circle cx="444.40" cy="217.19" r="6.21"/>
<circle cx="426.22" cy="280.27" r="6.21"/>
<circle cx="254.82" cy="270.32" r="6.21"/>
<circle cx="334.39" cy="280.63" r="6.21"/>
<circle cx="369.41" cy="211.58" r="6.21"/>
<circle cx="404.43" cy="310.79" r="6.21"/>
<circle cx="303.67" cy="268.23" r="6.21"/>
<circle cx="381.46" cy="206.24" r="6.21"/>
<circle cx="333.61" cy="192.60" r="6.21"/>
<circle cx="470.25" cy="256.83" r="6.21"/>
<circle cx="434.92" cy="169.70" r="6.21"/>
<circle cx="305.32" cy="254.25" r="6.21"/>
<circle cx="256.82" cy="166.35" r="6.21"/>
<circle cx="272.23" cy="209.21" r="6.21"/>
<circle cx="259.44" cy="260.46" r="6.21"/>
<circle cx="327.00" cy="235.13" r="6.21"/>
<circle cx="294.82" cy="258.78" r="6.21"/>
<circle cx="290.11" cy="215.25" r="6.21"/>
<circle cx="274.60" cy="367.95" r="6.21"/>
<circle cx="265.68" cy="211.88" r="6.21"/>
<circle cx="411.20" cy="225.23" r="6.21"/>
<circle cx="444.43" cy="248.32" r="6.21"/>
<circle cx="290.57" cy="250.02" r="6.21"/>
<circle cx="317.73" cy="289.81" r="6.21"/>
<circle cx="375.00" cy="253.61" r="6.21"/>
<circle cx="344.88" cy="225.24" r="6.21"/>
<circle cx="403.56" cy="135.37" r="6.21"/>
<circle cx="421.80" cy="269.13" r="6.21"/>
<circle cx="390.41" cy="246.39" r="6.21"/>
<circle cx="380.69" cy="374.95" r="6.21"/>
<circle cx="218.17" cy="276.11" r="6.21"/>
<circle cx="306.86" cy="162.51" r="6.21"/>
<circle cx="400.85" cy="264.07" r="6.21"/>
<circle cx="320.59" cy="365.03" r="6.21"/>
<circle cx="384.24" cy="207.74" r="6.21"/>
<circle cx="368.08" cy="259.88" r="6.21"/>
<circle cx="255.77" cy="232.58" r="6.21"/>
<circle cx="439.80" cy="243.09" r="6.21"/>
<circle cx="465.23" cy="295.94" r="6.21"/>
<circle cx="429.76" cy="211.94" r="6.21"/>
<circle cx="346.27" cy="255.66" r="6.21"/>
<circle cx="384.50" cy="166.48" r="6.21"/>
<circle cx="435.05" cy="248.83" r="6.21"/>
<circle cx="425.72" cy="197.92" r="6.21"/>
<circle cx="241.36" cy="357.56" r="6.21"/>
<circle cx="314.16" cy="281.84" r="6.21"/>
<circle cx="324.93" cy="272.83" r="6.21"/>
<circle cx="428.57" cy="214.82" r="6.21"/>
<circle cx="382.05" cy="190.29" r="6.21"/>
<circle cx="253.38" cy="218.27" r="6.21"/>
<circle cx="296.48" cy="175.67" r="6.21"/>
<circle cx="258.92" cy="113.82" r="6.21"/>
<circle cx="398.96" cy="136.63" r="6.21"/>
<circle cx="444.28" cy="223.28" r="6.21"/>
<circle cx="333.65" cy="250.90" r="6.21"/>
<circle cx="339.85" cy="287.78" r="6.21"/>
<circle cx="394.25" cy="301.77" r="6.21"/>
<circle cx="364.81" cy="286.70" r="6.21"/>
<circle cx="302.27" cy="222.51" r="6.21"/>
<circle cx="401.22" cy="255.19" r="6.21"/>
<circle cx="367.24" cy="263.74" r="6.21"/>
<circle cx="284.59" cy="211.80" r="6.21"/>
<circle cx="443.61" cy="260.76" r="6.21"/>
<circle cx="416.17" cy="259.71" r="6.21"/>
<circle cx="301.90" cy="345.68" r="6.21"/>
<circle cx="323.14" cy="72.69" r="6.21"/>
<circle cx="343.02" cy="272.89" r="6.21"/>
<circle cx="272.27" cy="86.52" r="6.21"/>
<circle cx="384.24" cy="252.78" r="6.21"/>
<circle cx="312.66" cy="122.66" r="6.21"/>
<circle cx="309.10" cy="251.53" r="6.21"/>
<circle cx="363.78" cy="294.41" r="6.21"/>
<circle cx="382.12" cy="210.21" r="6.21"/>
<circle cx="433.95" cy="349.57" r="6.21"/>
<circle cx="344.11" cy="295.32" r="6.21"/>
<circle cx="396.82" cy="161.34" r="6.21"/>
<circle cx="369.02" cy="271.90" r="6.21"/>
<circle cx="289.48" cy="426.61" r="6.21"/>
<circle cx="433.03" cy="252.29" r="6.21"/>
<circle cx="302.14" cy="200.93" r="6.21"/>
<circle cx="448.20" cy="146.59" r="6.21"/>
<circle cx="235.41" cy="255.17" r="6.21"/>
<circle cx="443.70" cy="182.01" r="6.21"/>
<circle cx="401.31" cy="180.02" r="6.21"/>
<circle cx="410.63" cy="153.80" r="6.21"/>
<circle cx="410.17" cy="241.37" r="6.21"/>
<circle cx="323.31" cy="183.75" r="6.21"/>
<circle cx="427.07" cy="317.02" r="6.21"/>
<circle cx="344.97" cy="195.59" r="6.21"/>
<circle cx="364.74" cy="281.31" r="6.21"/>
<circle cx="437.94" cy="172.03" r="6.21"/>
<circle cx="318.51" cy="185.49" r="6.21"/>
<circle cx="367.63" cy="303.21" r="6.21"/>
<circle cx="323.49" cy="163.00" r="6.21"/>
<circle cx="394.52" cy="244.97" r="6.21"/>
<circle cx="378.59" cy="259.14" r="6.21"/>
<circle cx="293.55" cy="148.42" r="6.21"/>
<circle cx="281.53" cy="189.52" r="6.21"/>
<circle cx="441.11" cy="254.61" r="6.21"/>
<circle cx="499.47" cy="174.70" r="6.21"/>
<circle cx="308.23" cy="284.03" r="6.21"/>
<circle cx="506.33" cy="202.28" r="6.21"/>
<circle cx="348.73" cy="310.60" r="6.21"/>
<circle cx="429.67" cy="309.64" r="6.21"/>
<circle cx="427.47" cy="261.15" r="6.21"/>
<circle cx="260.22" cy="275.47" r="6.21"/>
<circle cx="360.20" cy="151.26" r="6.21"/>
<circle cx="296.10" cy="171.17" r="6.21"/>
<circle cx="468.66" cy="237.83" r="6.21"/>
<circle cx="293.45" cy="314.55" r="6.21"/>
<circle cx="401.68" cy="206.35" r="6.21"/>
<circle cx="221.09" cy="243.34" r="6.21"/>
<circle cx="385.20" cy="156.12" r="6.21"/>
<circle cx="290.49" cy="217.04" r="6.21"/>
<circle cx="323.71" cy="296.97" r="6.21"/>
<circle cx="272.07" cy="200.54" r="6.21"/>
<circle cx="442.08" cy="155.74" r="6.21"/>
<circle cx="376.54" cy="334.24" r="6.21"/>
<circle cx="410.39" cy="223.67" r="6.21"/>
<circle cx="328.26" cy="192.22" r="6.21"/>
<circle cx="401.11" cy="233.34" r="6.21"/>
<circle cx="354.88" cy="264.33" r="6.21"/>
<circle cx="375.55" cy="256.83" r="6.21"/>
<circle cx="401.86" cy="207.14" r="6.21"/>
<circle cx="316.66" cy="135.53" r="6.21"/>
<circle cx="355.70" cy="184.45" r="6.21"/>
<circle cx="312.14" cy="152.35" r="6.21"/>
<circle cx="323.27" cy="326.00" r="6.21"/>
<circle cx="471.03" cy="165.15" r="6.21"/>
<circle cx="376.84" cy="227.21" r="6.21"/>
<circle cx="422.66" cy="169.05" r="6.21"/>
<circle cx="361.61" cy="170.73" r="6.21"/>
<circle cx="322.50" cy="231.11" r="6.21"/>
<circle cx="295.13" cy="151.73" r="6.21"/>
<circle cx="377.34" cy="208.81" r="6.21"/>
<circle cx="485.63" cy="229.01" r="6.21"/>
<circle cx="336.97" cy="248.40" r="6.21"/>
<circle cx="358.93" cy="265.19" r="6.21"/>
<circle cx="345.16" cy="261.69" r="6.21"/>
<circle cx="363.21" cy="198.42" r="6.21"/>
<circle cx="319.69" cy="168.14" r="6.21"/>
<circle cx="466.97" cy="134.96" r="6.21"/>
<circle cx="322.90" cy="382.84" r="6.21"/>
<circle cx="414.01" cy="393.08" r="6.21"/>
<circle cx="369.31" cy="238.62" r="6.21"/>
<circle cx="389.11" cy="260.77" r="6.21"/>
<circle cx="320.92" cy="337.02" r="6.21"/>
<circle cx="377.11" cy="219.92" r="6.21"/>
<circle cx="462.39" cy="294.16" r="6.21"/>
<circle cx="323.91" cy="222.38" r="6.21"/>
<circle cx="394.60" cy="275.67" r="6.21"/>
<circle cx="428.53" cy="306.75" r="6.21"/>
<circle cx="330.28" cy="257.40" r="6.21"/>
<circle cx="378.51" cy="269.49" r="6.21"/>
<circle cx="288.45" cy="328.88" r="6.21"/>
<circle cx="312.71" cy="226.84" r="6.21"/>
<circle cx="344.89" cy="329.10" r="6.21"/>
<circle cx="505.74" cy="200.98" r="6.21"/>
<circle cx="309.72" cy="236.12" r="6.21"/>
<circle cx="390.53" cy="351.21" r="6.21"/>
<circle cx="416.55" cy="120.65" r="6.21"/>
<circle cx="326.74" cy="107.14" r="6.21"/>
<circle cx="453.92" cy="217.21" r="6.21"/>
<circle cx="274.66" cy="216.04" r="6.21"/>
<circle cx="308.26" cy="203.39" r="6.21"/>
<circle cx="436.50" cy="228.10" r="6.21"/>
<circle cx="331.74" cy="211.05" r="6.21"/>
<circle cx="341.90" cy="280.22" r="6.21"/>
<circle cx="376.18" cy="272.39" r="6.21"/>
<circle cx="385.59" cy="316.59" r="6.21"/>
<circle cx="324.06" cy="321.87" r="6.21"/>
<circle cx="286.21" cy="282.35" r="6.21"/>
<circle cx="400.12" cy="326.69" r="6.21"/>
<circle cx="371.17" cy="294.06" r="6.21"/>
<circle cx="306.80" cy="225.58" r="6.21"/>
<circle cx="275.79" cy="250.78" r="6.21"/>
<circle cx="326.56" cy="295.23" r="6.21"/>
<circle cx="315.72" cy="325.25" r="6.21"/>
<circle cx="404.59" cy="167.09" r="6.21"/>
<circle cx="268.49" cy="165.24" r="6.21"/>
<circle cx="363.86" cy="379.07" r="6.21"/>
<circle cx="320.15" cy="204.98" r="6.21"/>
<circle cx="303.16" cy="171.29" r="6.21"/>
<circle cx="226.82" cy="302.48" r="6.21"/>
<circle cx="386.89" cy="218.74" r="6.21"/>
<circle cx="338.82" cy="195.73" r="6.21"/>
<circle cx="466.01" cy="360.78" r="6.21"/>
<circle cx="291.66" cy="206.57" r="6.21"/>
<circle cx="388.76" cy="215.71" r="6.21"/>
<circle cx="234.86" cy="247.28" r="6.21"/>
<circle cx="323.24" cy="238.62" r="6.21"/>
<circle cx="321.12" cy="252.03" r="6.21"/>
<circle cx="402.63" cy="187.86" r="6.21"/>
<circle cx="291.31" cy="194.94" r="6.21"/>
<circle cx="309.23" cy="285.70" r="6.21"/>
<circle cx="348.80" cy="136.72" r="6.21"/>
<circle cx="364.11" cy="136.82" r="6.21"/>
<circle cx="344.27" cy="299.68" r="6.21"/>
<circle cx="397.65" cy="216.38" r="6.21"/>
<circle cx="325.28" cy="210.45" r="6.21"/>
<circle cx="405.60" cy="151.20" r="6.21"/>
<circle cx="464.18" cy="321.27" r="6.21"/>
<circle cx="351.59" cy="321.05" r="6.21"/>
<circle cx="260.98" cy="186.61" r="6.21"/>
<circle cx="476.80" cy="304.87" r="6.21"/>
<circle cx="312.02" cy="331.64" r="6.21"/>
<circle cx="420.34" cy="305.70" r="6.21"/>
<circle cx="210.28" cy="220.82" r="6.21"/>
<circle cx="463.83" cy="282.39" r="6.21"/>
<circle cx="398.60" cy="269.01" r="6.21"/>
<circle cx="419.74" cy="195.05" r="6.21"/>
<circle cx="316.49" cy="217.68" r="6.21"/>
<circle cx="352.68" cy="308.85" r="6.21"/>
<circle cx="423.70" cy="211.24" r="6.21"/>
<circle cx="339.06" cy="136.94" r="6.21"/>
<circle cx="360.12" cy="162.67" r="6.21"/>
<circle cx="312.12" cy="263.02" r="6.21"/>
<circle cx="439.63" cy="260.65" r="6.21"/>
<circle cx="340.53" cy="235.73" r="6.21"/>
<circle cx="343.03" cy="301.78" r="6.21"/>
<circle cx="389.69" cy="252.35" r="6.21"/>
<circle cx="381.60" cy="141.53" r="6.21"/>
<circle cx="289.78" cy="193.98" r="6.21"/>
<circle cx="406.38" cy="167.47" r="6.21"/>
<circle cx="285.24" cy="236.85" r="6.21"/>
<circle cx="247.03" cy="304.01" r="6.21"/>
<circle cx="389.72" cy="236.21" r="6.21"/>
<circle cx="288.69" cy="244.87" r="6.21"/>
<circle cx="375.80" cy="248.11" r="6.21"/>
<circle cx="380.67" cy="283.40" r="6.21"/>
<circle cx="284.82" cy="319.99" r="6.21"/>
<circle cx="283.25" cy="185.77" r="6.21"/>
<circle cx="361.93" cy="219.83" r="6.21"/>
<circle cx="374.91" cy="256.11" r="6.21"/>
<circle cx="295.07" cy="290.60" r="6.21"/>
<circle cx="393.04" cy="181.17" r="6.21"/>
<circle cx="380.48" cy="259.41" r="6.21"/>
</g>
<polyline points="35.38,369.47 628.02,364.20" stroke="#fff" stroke-width="6.9"/><polyline points="35.38,369.47 628.02,364.20" stroke="#1E88E5" stroke-width="4.17"/>
<polyline points="35.38,247.80 628.02,235.98" stroke="#fff" stroke-width="6.9"/><polyline points="35.38,247.80 628.02,235.98" stroke="#D00E45" stroke-width="4.17"/>
<polyline points="35.38,427.51 628.02,184.75" stroke="#fff" stroke-width="6.9"/><polyline points="35.38,427.51 628.02,184.75" stroke="#000" stroke-width="4.17"/>
</g>
<rect x="76.5" y="71.5" width="165" height="74.7" rx="4.5" ry="4.5" fill="#fff" fill-opacity="0.8" stroke="#d0d0d0" stroke-width="1"/>
<line x1="82.9" y1="83.1" x2="115.9" y2="83.1" stroke="#1E88E5" stroke-width="4.17" stroke-linecap="round"/>
<text x="130.1" y="89.8" font-size="16.67" letter-spacing="-0.4">Z=0</text>
<line x1="82.9" y1="107" x2="115.9" y2="107" stroke="#D00E45" stroke-width="4.17" stroke-linecap="round"/>
<text x="130.1" y="112.8" font-size="16.67" letter-spacing="-0.4">Z=1</text>
<line x1="82.9" y1="130.1" x2="115.9" y2="130.1" stroke="#000" stroke-width="4.17" stroke-linecap="round"/>
<text x="130.1" y="137.1" font-size="16.67">total sample</text>
<text x="68.5" y="573" font-size="19.44" text-anchor="middle">−<tspan dx="-1.1">4</tspan></text>
<text x="134.5" y="573" font-size="19.44" text-anchor="middle">−<tspan dx="-1.1">3</tspan></text>
<text x="200.5" y="573" font-size="19.44" text-anchor="middle">−<tspan dx="-1.1">2</tspan></text>
<text x="266.5" y="573" font-size="19.44" text-anchor="middle">−<tspan dx="-1.1">1</tspan></text>
<text x="332.5" y="573" font-size="19.44" text-anchor="middle">0</text>
<text x="398.5" y="573" font-size="19.44" text-anchor="middle">1</text>
<text x="464.5" y="573" font-size="19.44" text-anchor="middle">2</text>
<text x="530.5" y="573" font-size="19.44" text-anchor="middle">3</text>
<text x="595.5" y="573" font-size="19.44" text-anchor="middle">4</text>
<text x="63.2" y="560.5" font-size="19.44" text-anchor="end">−<tspan dx="-1.1">4</tspan></text>
<text x="63.2" y="499.25" font-size="19.44" text-anchor="end">−<tspan dx="-1.1">3</tspan></text>
<text x="63.2" y="438" font-size="19.44" text-anchor="end">−<tspan dx="-1.1">2</tspan></text>
<text x="63.2" y="376.75" font-size="19.44" text-anchor="end">−<tspan dx="-1.1">1</tspan></text>
<text x="63.2" y="315.5" font-size="19.44" text-anchor="end">0</text>
<text x="63.2" y="254.25" font-size="19.44" text-anchor="end">1</text>
<text x="63.2" y="193" font-size="19.44" text-anchor="end">2</text>
<text x="63.2" y="131.75" font-size="19.44" text-anchor="end">3</text>
<text x="63.2" y="69.5" font-size="19.44" text-anchor="end">4</text>
<text x="332.8" y="598" font-size="19.44" text-anchor="middle">X</text>
<text x="0" y="0" font-size="19.44" text-anchor="middle" transform="translate(24,308) rotate(-90)">Y</text>
<text x="331.5" y="27.7" font-size="22.22" text-anchor="middle">The Pipe</text>
<text y="55" font-size="22.22"><tspan x="281.1" font-style="italic">X</tspan><tspan x="301.05">→</tspan><tspan x="324" font-style="italic">Z</tspan><tspan x="343.56">→</tspan><tspan x="366.1" font-style="italic">Y</tspan></text>
</svg></body></html>
